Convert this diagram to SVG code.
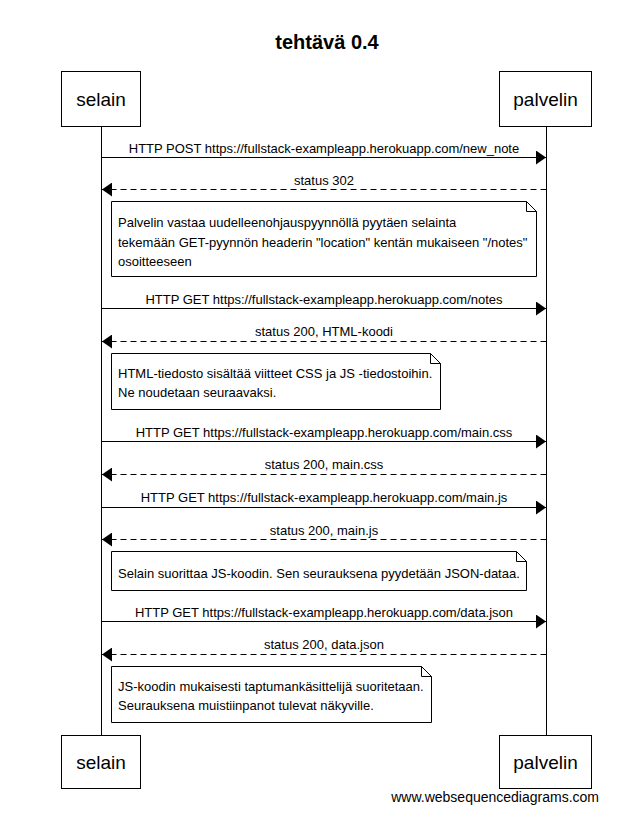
<svg xmlns="http://www.w3.org/2000/svg" width="636" height="832" viewBox="0 0 636 832">
<defs>
<style>
text{font-family:"Liberation Sans",Arial,sans-serif;fill:#000}
.title{font-size:20px;font-weight:bold;text-anchor:middle}
.actor{font-size:19px;text-anchor:middle}
.lbl{font-size:13px;text-anchor:middle}
.note{font-size:13px}
.box{fill:#fff;stroke:#000;stroke-width:1}
.life{stroke:#000;stroke-width:1}
.msg{stroke:#000;stroke-width:1;fill:none}
.ret{stroke:#000;stroke-width:1;fill:none;stroke-dasharray:6,4}
.nt{fill:#fff;stroke:#000;stroke-width:1}
</style>
<marker id="ah" viewBox="0 0 10 14" refX="10" refY="7" markerWidth="10" markerHeight="14" markerUnits="userSpaceOnUse" orient="auto">
<path d="M0,0 L10,7 L0,14 Z" fill="#000"/>
</marker>
</defs>
<rect width="636" height="832" fill="#fff"/>
<text class="title" x="327" y="49">tehtävä 0.4</text>

<g id="lifelines">
<line class="life" x1="101.5" y1="126" x2="101.5" y2="735"/>
<line class="life" x1="546.5" y1="126" x2="546.5" y2="735"/>
</g>

<g id="selain">
<rect class="box" x="61.5" y="71.5" width="79" height="55"/>
<text class="actor" x="101" y="106">selain</text>
</g>
<g id="palvelin">
<rect class="box" x="499.5" y="71.5" width="92" height="55"/>
<text class="actor" x="545.5" y="106">palvelin</text>
</g>
<g id="selain-bottom">
<rect class="box" x="61.5" y="735.5" width="79" height="53"/>
<text class="actor" x="101" y="769">selain</text>
</g>
<g id="palvelin-bottom">
<rect class="box" x="499.5" y="735.5" width="92" height="53"/>
<text class="actor" x="545.5" y="769">palvelin</text>
</g>

<g id="connectors">
<line class="msg" x1="101.5" y1="157.5" x2="546" y2="157.5" marker-end="url(#ah)"/>
<text class="lbl" x="324" y="153">HTTP POST https://fullstack-exampleapp.herokuapp.com/new_note</text>
<line class="ret" x1="546.5" y1="189.5" x2="102" y2="189.5" marker-end="url(#ah)"/>
<text class="lbl" x="324" y="185">status 302</text>

<line class="msg" x1="101.5" y1="308.5" x2="546" y2="308.5" marker-end="url(#ah)"/>
<text class="lbl" x="324" y="304">HTTP GET https://fullstack-exampleapp.herokuapp.com/notes</text>
<line class="ret" x1="546.5" y1="341.5" x2="102" y2="341.5" marker-end="url(#ah)"/>
<text class="lbl" x="324" y="336">status 200, HTML-koodi</text>

<line class="msg" x1="101.5" y1="441.5" x2="546" y2="441.5" marker-end="url(#ah)"/>
<text class="lbl" x="324" y="437">HTTP GET https://fullstack-exampleapp.herokuapp.com/main.css</text>
<line class="ret" x1="546.5" y1="474.5" x2="102" y2="474.5" marker-end="url(#ah)"/>
<text class="lbl" x="324" y="469">status 200, main.css</text>

<line class="msg" x1="101.5" y1="507.5" x2="546" y2="507.5" marker-end="url(#ah)"/>
<text class="lbl" x="324" y="502">HTTP GET https://fullstack-exampleapp.herokuapp.com/main.js</text>
<line class="ret" x1="546.5" y1="539.5" x2="102" y2="539.5" marker-end="url(#ah)"/>
<text class="lbl" x="324" y="535">status 200, main.js</text>

<line class="msg" x1="101.5" y1="621.5" x2="546" y2="621.5" marker-end="url(#ah)"/>
<text class="lbl" x="324" y="617">HTTP GET https://fullstack-exampleapp.herokuapp.com/data.json</text>
<line class="ret" x1="546.5" y1="654.5" x2="102" y2="654.5" marker-end="url(#ah)"/>
<text class="lbl" x="324" y="649">status 200, data.json</text>
</g>

<g id="note1">
<path class="nt" d="M111.5,201.5 H526.5 L536.5,211.5 V276.5 H111.5 Z"/>
<path class="msg" d="M526.5,201.5 V211.5 H536.5"/>
<text class="note" x="118" y="227">Palvelin vastaa uudelleenohjauspyynnöllä pyytäen selainta</text>
<text class="note" x="118" y="247">tekemään GET-pyynnön headerin "location" kentän mukaiseen "/notes"</text>
<text class="note" x="118" y="266">osoitteeseen</text>
</g>
<g id="note2">
<path class="nt" d="M111.5,353.5 H430.5 L440.5,363.5 V409.5 H111.5 Z"/>
<path class="msg" d="M430.5,353.5 V363.5 H440.5"/>
<text class="note" x="118" y="378">HTML-tiedosto sisältää viitteet CSS ja JS -tiedostoihin.</text>
<text class="note" x="118" y="397">Ne noudetaan seuraavaksi.</text>
</g>
<g id="note3">
<path class="nt" d="M111.5,551.5 H516.5 L526.5,561.5 V590.5 H111.5 Z"/>
<path class="msg" d="M516.5,551.5 V561.5 H526.5"/>
<text class="note" x="118" y="578">Selain suorittaa JS-koodin. Sen seurauksena pyydetään JSON-dataa.</text>
</g>
<g id="note4">
<path class="nt" d="M111.5,666.5 H421.5 L431.5,676.5 V722.5 H111.5 Z"/>
<path class="msg" d="M421.5,666.5 V676.5 H431.5"/>
<text class="note" x="118" y="691">JS-koodin mukaisesti taptumankäsittelijä suoritetaan.</text>
<text class="note" x="118" y="710">Seurauksena muistiinpanot tulevat näkyville.</text>
</g>

<text x="599" y="802" style="font-size:14px;text-anchor:end">www.websequencediagrams.com</text>
</svg>
